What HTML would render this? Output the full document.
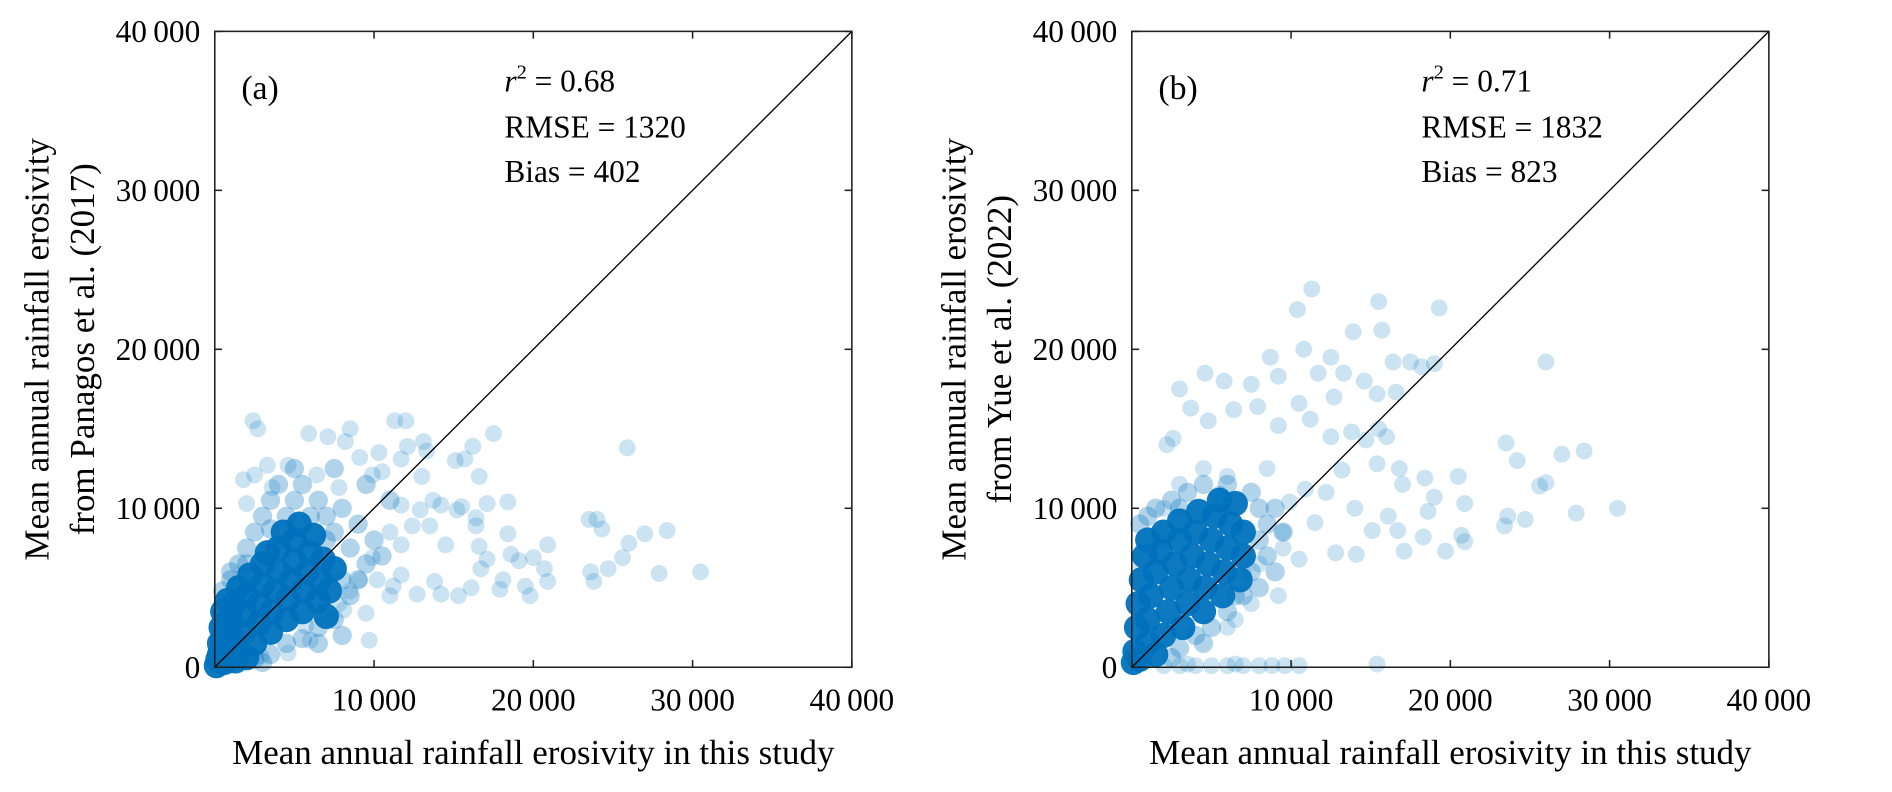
<!DOCTYPE html>
<html><head><meta charset="utf-8"><style>
html,body{margin:0;padding:0;background:#fff;}
svg{display:block;font-family:"Liberation Serif",serif;}
</style></head><body>
<svg id="fig" width="1892" height="792" viewBox="0 0 1892 792"><g id="root" transform="scale(1.2066)"></g></svg>
<script>
const ticks=[0,10000,20000,30000,40000];
const tickLabels=["0","10\u2009000","20\u2009000","30\u2009000","40\u2009000"];
const aX=[2.4,2.7,5.9,8.5,11.3,12.0,17.5,25.9,1.8,2.5,2.0,16.2,15.1,15.7,13.1,12.1,13.0,16.6,17.1,18.4,18.4,23.5,24.0,24.3,27.0,28.4,26.0,20.9,25.6,24.7,23.6,23.8,27.9,30.5,20.0,19.1,18.6,20.9,20.7,19.5,19.8,17.9,18.1,16.1,15.3,14.2,13.8,12.7,11.2,10.2,9.5,9.7,16.7,17.1,16.6,16.4,16.4,15.5,14.5,13.5,12.4,11.7,13.7,14.2,11.7,15.2,12.9,8.1,9.9,11.0,11.7,13.3,10.3,8.2,7.1,9.1,9.9,10.5,6.4,7.8,3.3,4.6,3.6,2.9,4.6,6.0,5.7,6.8,7.8,8.5,9.1,11.0,11.7];
const aY=[15.5,15.0,14.7,15.0,15.5,15.5,14.7,13.8,11.8,12.1,10.3,13.9,13.0,13.1,14.2,13.9,12.0,12.0,10.3,10.4,8.4,9.3,9.3,8.7,8.4,8.6,7.8,7.7,6.9,6.2,6.0,5.4,5.9,6.0,6.9,6.7,7.1,5.4,6.2,5.1,4.5,4.9,5.5,5.0,4.5,4.6,5.4,4.6,5.1,5.5,3.4,1.7,6.2,6.8,7.6,8.9,9.4,10.1,7.7,8.9,8.9,7.7,10.5,10.2,10.2,9.9,9.9,3.6,6.9,8.5,13.1,13.6,13.5,14.2,14.5,13.2,12.1,12.3,12.1,11.3,12.7,12.7,11.3,0.7,0.9,1.7,2.6,3.6,4.0,4.8,5.5,4.5,5.8];
const aHaloX=[1.5,2,2.5,3,3.5,4,5,5.5,6.5,7,7.5,8,8.5,9,9.5,10,8,8.5,7.5,6.5,5.5,4.5,3.5,2.5,1,0.5,6,4.5,3.5,7,9,8,2,1,3,6.5,10.5,11,9.5,7.5,5];
const aHaloY=[6.5,7.5,8.5,9.5,10.5,11.5,10.5,11.5,10.5,9.5,8.5,10,7.5,9,6.5,8,5.5,4.5,3,2.5,1.8,1.5,0.8,0.5,5.5,4.8,9.5,9.5,8.7,8,5.5,2,6.5,6,0.3,1.5,7,10.5,11.5,12.5,12.5];
const aCoreX=[0.2,0.3,0.4,0.5,0.8,0.6,1,1,1,1.2,1.5,1.5,1.8,2,2,2.2,2.5,2.8,2.8,3,3,3.3,3.5,3.6,3.8,4,4,4.3,4.5,4.6,4.8,5,5,5.3,5.5,5.6,5.8,6,6.2,6.5,6.6,6.8,7,7.2,7.5,0.1,0.3,0.5,0.7,1.3,2];
const aCoreY=[0.5,1.5,2.5,3.5,4.2,0.3,1,2,3,4,5,1,2.2,3.3,4.5,5.8,1.5,2.8,4,5.2,6.5,7.2,2.2,3.5,4.8,6,7.5,8.5,3,4.3,5.5,6.7,8,9,3.5,4.8,6,7.2,8.3,4.2,5.5,6.8,3.2,4.8,6.2,0.1,0.8,1.8,2.8,0.4,0.6];
const bX=[11.3,10.4,15.5,19.3,15.7,13.9,10.8,12.5,8.7,4.6,5.8,3.0,7.5,9.2,11.7,13.3,16.4,17.5,18.2,19.0,26.0,14.6,15.4,16.6,12.7,10.5,7.9,6.4,3.7,2.6,2.2,4.8,9.2,11.2,12.5,13.8,14.7,15.5,16.0,16.8,15.4,13.2,17.0,18.4,20.5,23.5,24.2,27.0,28.4,26.0,25.6,30.5,27.9,24.7,23.6,23.4,20.9,19.0,18.6,20.7,20.9,19.7,18.3,16.7,16.1,17.1,15.1,14.1,12.8,14.0,12.2,10.9,9.9,11.5,9.5,10.5,9.2,8.0,7.0,6.5,6.0,7.5,9.5,8.5,6.0,4.5,3.0,2.0,1.8,1.0,0.5,2,3,4,5,6,7,8,8.8,9.6,10.5,15.4,3.5,6.5];
const bY=[23.8,22.5,23.0,22.6,21.2,21.1,20.0,19.5,19.5,18.5,18.0,17.5,17.8,18.3,18.5,18.5,19.2,19.2,18.9,19.1,19.2,18.0,17.2,17.3,17.0,16.6,16.4,16.2,16.3,14.4,14.0,15.5,15.2,15.6,14.5,14.8,14.3,15.0,14.5,12.5,12.8,12.4,11.5,11.9,12.0,14.1,13.0,13.4,13.6,11.6,11.4,10.0,9.7,9.3,9.5,8.9,10.3,10.7,9.8,8.3,7.9,7.3,8.2,8.6,9.5,7.3,8.6,7.1,7.2,10.0,11.0,11.2,10.4,9.1,8.5,6.8,4.5,6.5,6.0,3.0,2.5,4.0,7.5,12.5,12.0,12.5,11.5,10.0,8.5,8.0,6.5,0.1,0.1,0.1,0.1,0.1,0.1,0.1,0.1,0.1,0.1,0.2,0.2,0.2];
const bHaloX=[1,1.5,2.5,3.5,4.5,6,7.5,8,8.5,8,8.5,7.5,8,7,6,5,4,3,2.5,0.5,9,9.5,6.5,5.5,3,9,4.5];
const bHaloY=[9.5,10,10.5,11,11.5,11.5,11,10,9,8,7,6,5,4.5,3.5,2.5,2,1.2,0.6,9,10,8.5,4.5,10.8,10,6,1.5];
const bCoreX=[0.2,0.3,0.4,0.6,0.8,1,1,1,1.2,1.5,1.8,2,2,2.3,2.5,2.7,3,3,3.2,3.5,3.6,3.8,4,4.2,4.5,4.6,4.8,5,5.2,5.5,5.7,5.8,6,6.2,6.5,6.8,7,7,0.5,1.5,0.1];
const bCoreY=[1,2.5,4,5.5,7,8,1.5,3,4.5,6,7.3,8.5,2,3.5,5,6.5,8,9.2,2.5,4,5.5,7,8.5,9.8,3.5,5,6.5,8,9.5,10.5,4.5,6,7.5,9,10.3,5.5,7,8.5,0.5,0.8,0.3];

const NS="http://www.w3.org/2000/svg";
const root=document.getElementById('root');
function mk(tag,attrs,parent){const e=document.createElementNS(NS,tag);for(const k in attrs)e.setAttribute(k,attrs[k]);(parent||root).appendChild(e);return e;}

function panel(x0,label,ylab2,stats,px,py,hx,hy,cx,cy){
  const y0=26,W=528,H=527;
  const sx=v=>x0+v/40000*W, sy=v=>y0+H-v/40000*H;
  const g=mk('g',{});
  
  
  const pts=mk('g',{},g);
  for(let i=0;i<px.length;i++){
    const c=mk('circle',{cx:sx(px[i]*1000),cy:sy(py[i]*1000),r:7,fill:'#0072BD','fill-opacity':0.2},pts);
    
    
  }
  for(let i=0;i<hx.length;i++){
    const c=mk('circle',{cx:sx(hx[i]*1000),cy:sy(hy[i]*1000),r:8,fill:'#0072BD','fill-opacity':0.3},pts);
    
    
  }
  for(let i=0;i<cx.length;i++){
    const c=mk('circle',{cx:sx(cx[i]*1000),cy:sy(cy[i]*1000),r:10.5,fill:'#0072BD','fill-opacity':0.95},pts);
    
    
  }
  const d=mk('line',{x1:sx(0),y1:sy(0),x2:sx(40000),y2:sy(40000),stroke:'#000','stroke-width':1.1},g);
  
  
  const box=mk('rect',{x:x0,y:y0,width:W,height:H,fill:'none',stroke:'#222','stroke-width':1.3},g);
  
  
  ticks.forEach((t,i)=>{
    mk('line',{x1:sx(t),y1:y0+H,x2:sx(t),y2:y0+H-6,stroke:'#222','stroke-width':1.3},g);
    mk('line',{x1:sx(t),y1:y0,x2:sx(t),y2:y0+6,stroke:'#222','stroke-width':1.3},g);
    mk('line',{x1:x0,y1:sy(t),x2:x0+6,y2:sy(t),stroke:'#222','stroke-width':1.3},g);
    mk('line',{x1:x0+W,y1:sy(t),x2:x0+W-6,y2:sy(t),stroke:'#222','stroke-width':1.3},g);
    if(i>0){const tx=mk('text',{x:sx(t),y:y0+H+36,'font-size':26,'text-anchor':'middle'},g);tx.textContent=tickLabels[i];
      }
    const ty=mk('text',{x:x0-12,y:sy(t)+9,'font-size':26,'text-anchor':'end'},g);ty.textContent=tickLabels[i];
    
  });
  const xt=mk('text',{x:x0+W/2,y:y0+H+80,'font-size':29,'text-anchor':'middle'},g);
  xt.textContent='Mean annual rainfall erosivity in this study';
  
  const yt=mk('text',{transform:`translate(${x0-138},${y0+H/2}) rotate(-90)`,'font-size':29,'text-anchor':'middle'},g);
  
  const t1=mk('tspan',{x:0,y:0},yt);t1.textContent='Mean annual rainfall erosivity';
  const t2=mk('tspan',{x:0,y:38},yt);t2.textContent=ylab2;
  const pl=mk('text',{x:x0+22,y:y0+56,'font-size':28},g);pl.textContent='('+label+')';
  
  const st=mk('text',{x:x0+240,y:y0+50,'font-size':26},g);
  
  const s1=mk('tspan',{x:x0+240,'font-style':'italic'},st);s1.textContent='r';
  const s2=mk('tspan',{dy:-11,'font-size':17},st);s2.textContent='2';
  const s3=mk('tspan',{dy:11},st);s3.textContent=' = '+stats[0];
  const s4=mk('tspan',{x:x0+240,dy:38},st);s4.textContent='RMSE = '+stats[1];
  const s5=mk('tspan',{x:x0+240,dy:37},st);s5.textContent='Bias = '+stats[2];
}
panel(178,'a','from Panagos et al. (2017)',['0.68','1320','402'],aX,aY,aHaloX,aHaloY,aCoreX,aCoreY);
panel(938,'b','from Yue et al. (2022)',['0.71','1832','823'],bX,bY,bHaloX,bHaloY,bCoreX,bCoreY);
</script>
</body></html>
